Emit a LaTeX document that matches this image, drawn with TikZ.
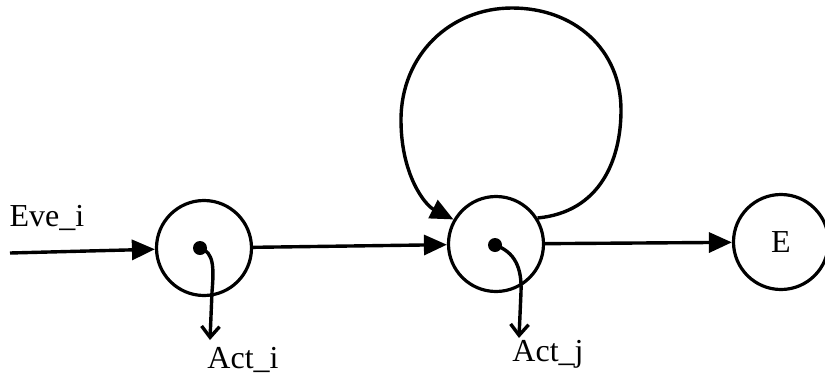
\documentclass[tikz,border=0pt]{standalone}
\usepackage{fontspec}
\setmainfont{Liberation Serif}
\usetikzlibrary{arrows.meta}
\begin{document}
\begin{tikzpicture}[x=1pt,y=-1pt,
  line width=3.4pt,
  state/.style={circle,draw,line width=3.2pt,minimum size=95pt,inner sep=0pt},
  flow/.style={-{Triangle[length=23pt,width=20pt]}},
  act/.style={-{Straight Barb[length=11pt,width=18pt,line width=3.4pt]},line width=3.4pt},
  lbl/.style={font=\fontsize{32}{36}\selectfont,inner sep=0pt},
  dot/.style={circle,fill,inner sep=0pt,minimum size=14pt}]
\useasboundingbox (0,0) rectangle (825,381);

% states
\node[state] (s1) at (204,248) {};
\node[state] (s2) at (496,244) {};
\node[state] (se) at (781,242) {};
\node[lbl] at (se.center) {E};

% action dots
\node[dot] (d1) at (200,248) {};
\node[dot] (d2) at (495,245) {};

% labels
\node[lbl] (eve) at (47,218) {Eve\_i};
\node[lbl] (acti) at (243,360) {Act\_i};
\node[lbl] (actj) at (548,354) {Act\_j};

% free ends
\coordinate (src) at (10,253);
\coordinate (ai) at (210,340);
\coordinate (aj) at (519,338);

% transitions
\draw[flow] (src) -- (s1);
\draw[flow] (s1) -- (s2);
\draw[flow] (s2) -- (se);

% self loop on the second state
\draw[flow] (s2.32) .. controls (600,212) and (621,160) .. (621,110)
  .. controls (621,50) and (575,8) .. (512,8)
  .. controls (450,8) and (401,55) .. (401,120)
  .. controls (401,175) and (425,205) .. (s2.150);

% action outputs
\draw[act] (d1.center) .. controls (214,252) and (214,268) .. (212,292) -- (ai);
\draw[act] (d2.center) .. controls (515,252) and (522,268) .. (521,292) -- (aj);
\end{tikzpicture}
\end{document}
